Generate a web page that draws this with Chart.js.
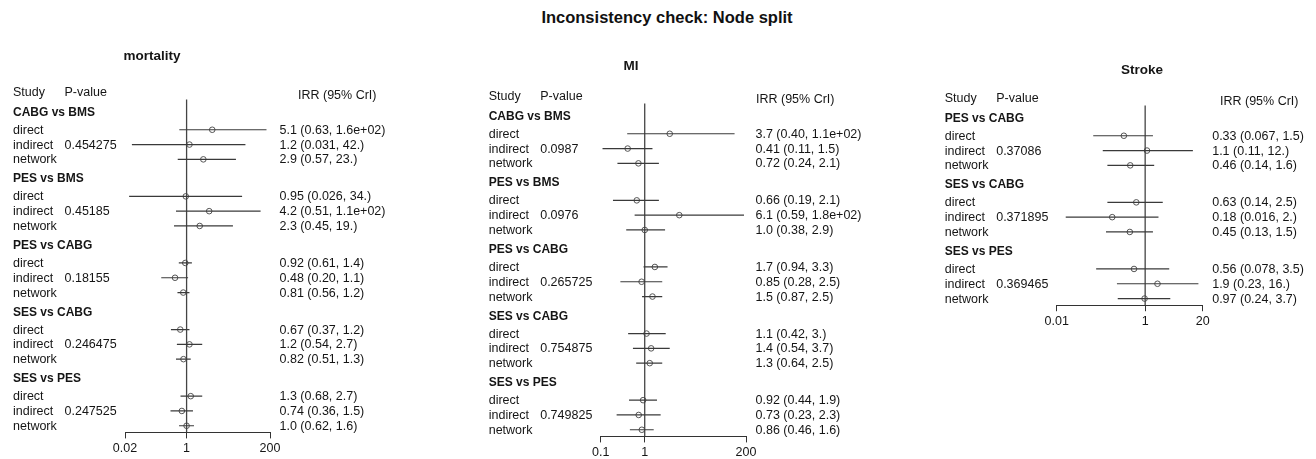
<!DOCTYPE html>
<html lang="en">
<head>
    <meta charset="UTF-8">
    <title>Inconsistency check: Node split</title>
    <script src="https://cdn.jsdelivr.net/npm/chart.js"></script>
    <style>
        body { margin: 0; background: #fff; width: 1316px; height: 459px; position: relative; overflow: hidden; }
        #title { position: absolute; left: 667px; top: 7px; transform: translateX(-50%); white-space: nowrap;
                 font: bold 16.5px "Liberation Sans", Arial, sans-serif; line-height: 20px; color: #111; }
        canvas { position: absolute; top: 0; }
    </style>
</head>
<body>
    <div id="title">Inconsistency check: Node split</div>
    <canvas id="mortality" width="440" height="459" style="left:0px"></canvas>
    <canvas id="mi" width="440" height="459" style="left:440px"></canvas>
    <canvas id="stroke" width="436" height="459" style="left:880px"></canvas>
    <script>
        // rows inside each comparison
        const rowTypes = ['direct', 'indirect', 'network'];

        // mortality
        const mortalityGroups = ['CABG vs BMS', 'PES vs BMS', 'PES vs CABG', 'SES vs CABG', 'SES vs PES'];
        const mortalityEst = [5.1, 1.2, 2.9, 0.95, 4.2, 2.3, 0.92, 0.48, 0.81, 0.67, 1.2, 0.82, 1.3, 0.74, 1.0];
        const mortalityLo = [0.63, 0.031, 0.57, 0.026, 0.51, 0.45, 0.61, 0.20, 0.56, 0.37, 0.54, 0.51, 0.68, 0.36, 0.62];
        const mortalityHi = [160, 42, 23, 34, 110, 19, 1.4, 1.1, 1.2, 1.2, 2.7, 1.3, 2.7, 1.5, 1.6];
        const mortalityP = [0.454275, 0.45185, 0.18155, 0.246475, 0.247525];
        const mortalityTicks = [0.02, 1, 200];

        // MI
        const miGroups = ['CABG vs BMS', 'PES vs BMS', 'PES vs CABG', 'SES vs CABG', 'SES vs PES'];
        const miEst = [3.7, 0.41, 0.72, 0.66, 6.1, 1.0, 1.7, 0.85, 1.5, 1.1, 1.4, 1.3, 0.92, 0.73, 0.86];
        const miLo = [0.40, 0.11, 0.24, 0.19, 0.59, 0.38, 0.94, 0.28, 0.87, 0.42, 0.54, 0.64, 0.44, 0.23, 0.46];
        const miHi = [110, 1.5, 2.1, 2.1, 180, 2.9, 3.3, 2.5, 2.5, 3, 3.7, 2.5, 1.9, 2.3, 1.6];
        const miP = [0.0987, 0.0976, 0.265725, 0.754875, 0.749825];
        const miTicks = [0.1, 1, 200];

        // Stroke
        const strokeGroups = ['PES vs CABG', 'SES vs CABG', 'SES vs PES'];
        const strokeEst = [0.33, 1.1, 0.46, 0.63, 0.18, 0.45, 0.56, 1.9, 0.97];
        const strokeLo = [0.067, 0.11, 0.14, 0.14, 0.016, 0.13, 0.078, 0.23, 0.24];
        const strokeHi = [1.5, 12, 1.6, 2.5, 2, 1.5, 3.5, 16, 3.7];
        const strokeP = [0.37086, 0.371895, 0.369465];
        const strokeTicks = [0.01, 1, 20];

        const FONT = '"Liberation Sans", Arial, sans-serif';
        const UNIT = 14.8;      // px per text line
        const GROUP_STEP = 4.5; // lines between comparison headers
        const AXIS_H = 22;

        // two significant digits, roughly as R prints them
        function fmtEst(v) { return v.toPrecision(2); }
        function fmtBound(v) {
            if (v >= 100) {
                const e = Math.floor(Math.log10(v));
                return (v / Math.pow(10, e)).toFixed(1) + 'e+' + String(e).padStart(2, '0');
            }
            if (Number.isInteger(v)) return v + '.';
            return v.toPrecision(2);
        }

        function forestPanel(id, cfg) {
            const canvas = document.getElementById(id);
            const left = parseFloat(canvas.style.left);
            const H = canvas.height;

            const rows = [];
            cfg.groups.forEach((g, gi) => {
                rowTypes.forEach((t, k) => {
                    const i = gi * 3 + k;
                    rows.push({
                        r: gi * GROUP_STEP + 1.2 + k, type: t,
                        est: cfg.est[i], lo: cfg.lo[i], hi: cfg.hi[i],
                        p: t === 'indirect' ? cfg.p[gi] : null
                    });
                });
            });
            const rMin = -2;
            const rMax = (cfg.groups.length - 1) * GROUP_STEP + 3.2 + 0.45;

            const ciSets = rows.map(row => ({
                data: [{ x: row.lo, y: row.r }, { x: row.hi, y: row.r }],
                showLine: true, borderColor: '#3a3a3a', borderWidth: 1.2, pointRadius: 0
            }));
            const refLine = {
                data: [{ x: 1, y: -0.85 }, { x: 1, y: rMax }],
                showLine: true, borderColor: '#444', borderWidth: 1.3, pointRadius: 0
            };
            const points = {
                data: rows.map(row => ({ x: row.est, y: row.r })),
                pointRadius: 2.8, pointBorderWidth: 1, pointBorderColor: '#555',
                pointBackgroundColor: '#fff', showLine: false
            };

            const labels = {
                id: 'forestText',
                afterDraw(chart) {
                    const ctx = chart.ctx;
                    const y = chart.scales.y;
                    const xa = chart.chartArea.left, xb = chart.chartArea.right;
                    const studyX = xa - 112, pX = xa - 60.5, irrX = xb + 9.5;
                    ctx.save();
                    ctx.fillStyle = '#151515';
                    ctx.textBaseline = 'middle';
                    ctx.textAlign = 'left';

                    ctx.font = '12.5px ' + FONT;
                    ctx.fillText('Study', studyX, y.getPixelForValue(-1.3));
                    ctx.fillText('P-value', pX, y.getPixelForValue(-1.3));
                    ctx.fillText('IRR (95% CrI)', cfg.irrHeadX - left, y.getPixelForValue(-1.1));

                    rows.forEach(row => {
                        const py = y.getPixelForValue(row.r) + 0.5;
                        ctx.fillText(row.type, studyX, py);
                        if (row.p !== null) ctx.fillText(String(row.p), pX, py);
                        ctx.fillText(fmtEst(row.est) + ' (' + fmtBound(row.lo) + ', ' + fmtBound(row.hi) + ')', irrX, py);
                    });

                    ctx.font = 'bold 12px ' + FONT;
                    cfg.groups.forEach((g, gi) => {
                        ctx.fillText(g, studyX, y.getPixelForValue(gi * GROUP_STEP) + 0.5);
                    });

                    ctx.font = 'bold 13.5px ' + FONT;
                    ctx.textAlign = 'center';
                    ctx.fillText(cfg.title, cfg.titleX - left, cfg.titleY);
                    ctx.restore();
                }
            };

            return new Chart(canvas, {
                type: 'scatter',
                data: { datasets: [...ciSets, refLine, points] },
                options: {
                    responsive: false,
                    animation: false,
                    devicePixelRatio: 1,
                    layout: {
                        padding: {
                            left: cfg.axisL - left,
                            right: left + canvas.width - cfg.axisR,
                            top: cfg.headY + rMin * UNIT,
                            bottom: H - AXIS_H - (cfg.headY + rMax * UNIT)
                        }
                    },
                    scales: {
                        x: {
                            type: 'logarithmic',
                            min: cfg.ticks[0],
                            max: cfg.ticks[cfg.ticks.length - 1],
                            afterBuildTicks: s => { s.ticks = cfg.ticks.map(v => ({ value: v })); },
                            afterFit: s => { s.height = AXIS_H; },
                            ticks: {
                                callback: v => String(v),
                                font: { family: FONT, size: 12.5 },
                                color: '#151515', padding: 3,
                                maxRotation: 0, autoSkip: false
                            },
                            grid: { drawOnChartArea: false, tickLength: 6, color: '#333', lineWidth: 1 },
                            border: { color: '#333', width: 1 }
                        },
                        y: { type: 'linear', reverse: true, min: rMin, max: rMax, display: false }
                    },
                    plugins: {
                        legend: { display: false },
                        tooltip: { enabled: false }
                    }
                },
                plugins: [labels]
            });
        }

        forestPanel('mortality', {
            title: 'mortality', titleX: 152, titleY: 56,
            groups: mortalityGroups, est: mortalityEst, lo: mortalityLo, hi: mortalityHi, p: mortalityP,
            ticks: mortalityTicks, axisL: 125, axisR: 270, headY: 112, irrHeadX: 298
        });
        forestPanel('mi', {
            title: 'MI', titleX: 631, titleY: 66,
            groups: miGroups, est: miEst, lo: miLo, hi: miHi, p: miP,
            ticks: miTicks, axisL: 600.7, axisR: 746, headY: 116, irrHeadX: 756
        });
        forestPanel('stroke', {
            title: 'Stroke', titleX: 1142, titleY: 70,
            groups: strokeGroups, est: strokeEst, lo: strokeLo, hi: strokeHi, p: strokeP,
            ticks: strokeTicks, axisL: 1056.7, axisR: 1202.7, headY: 118, irrHeadX: 1220
        });
    </script>
</body>
</html>
